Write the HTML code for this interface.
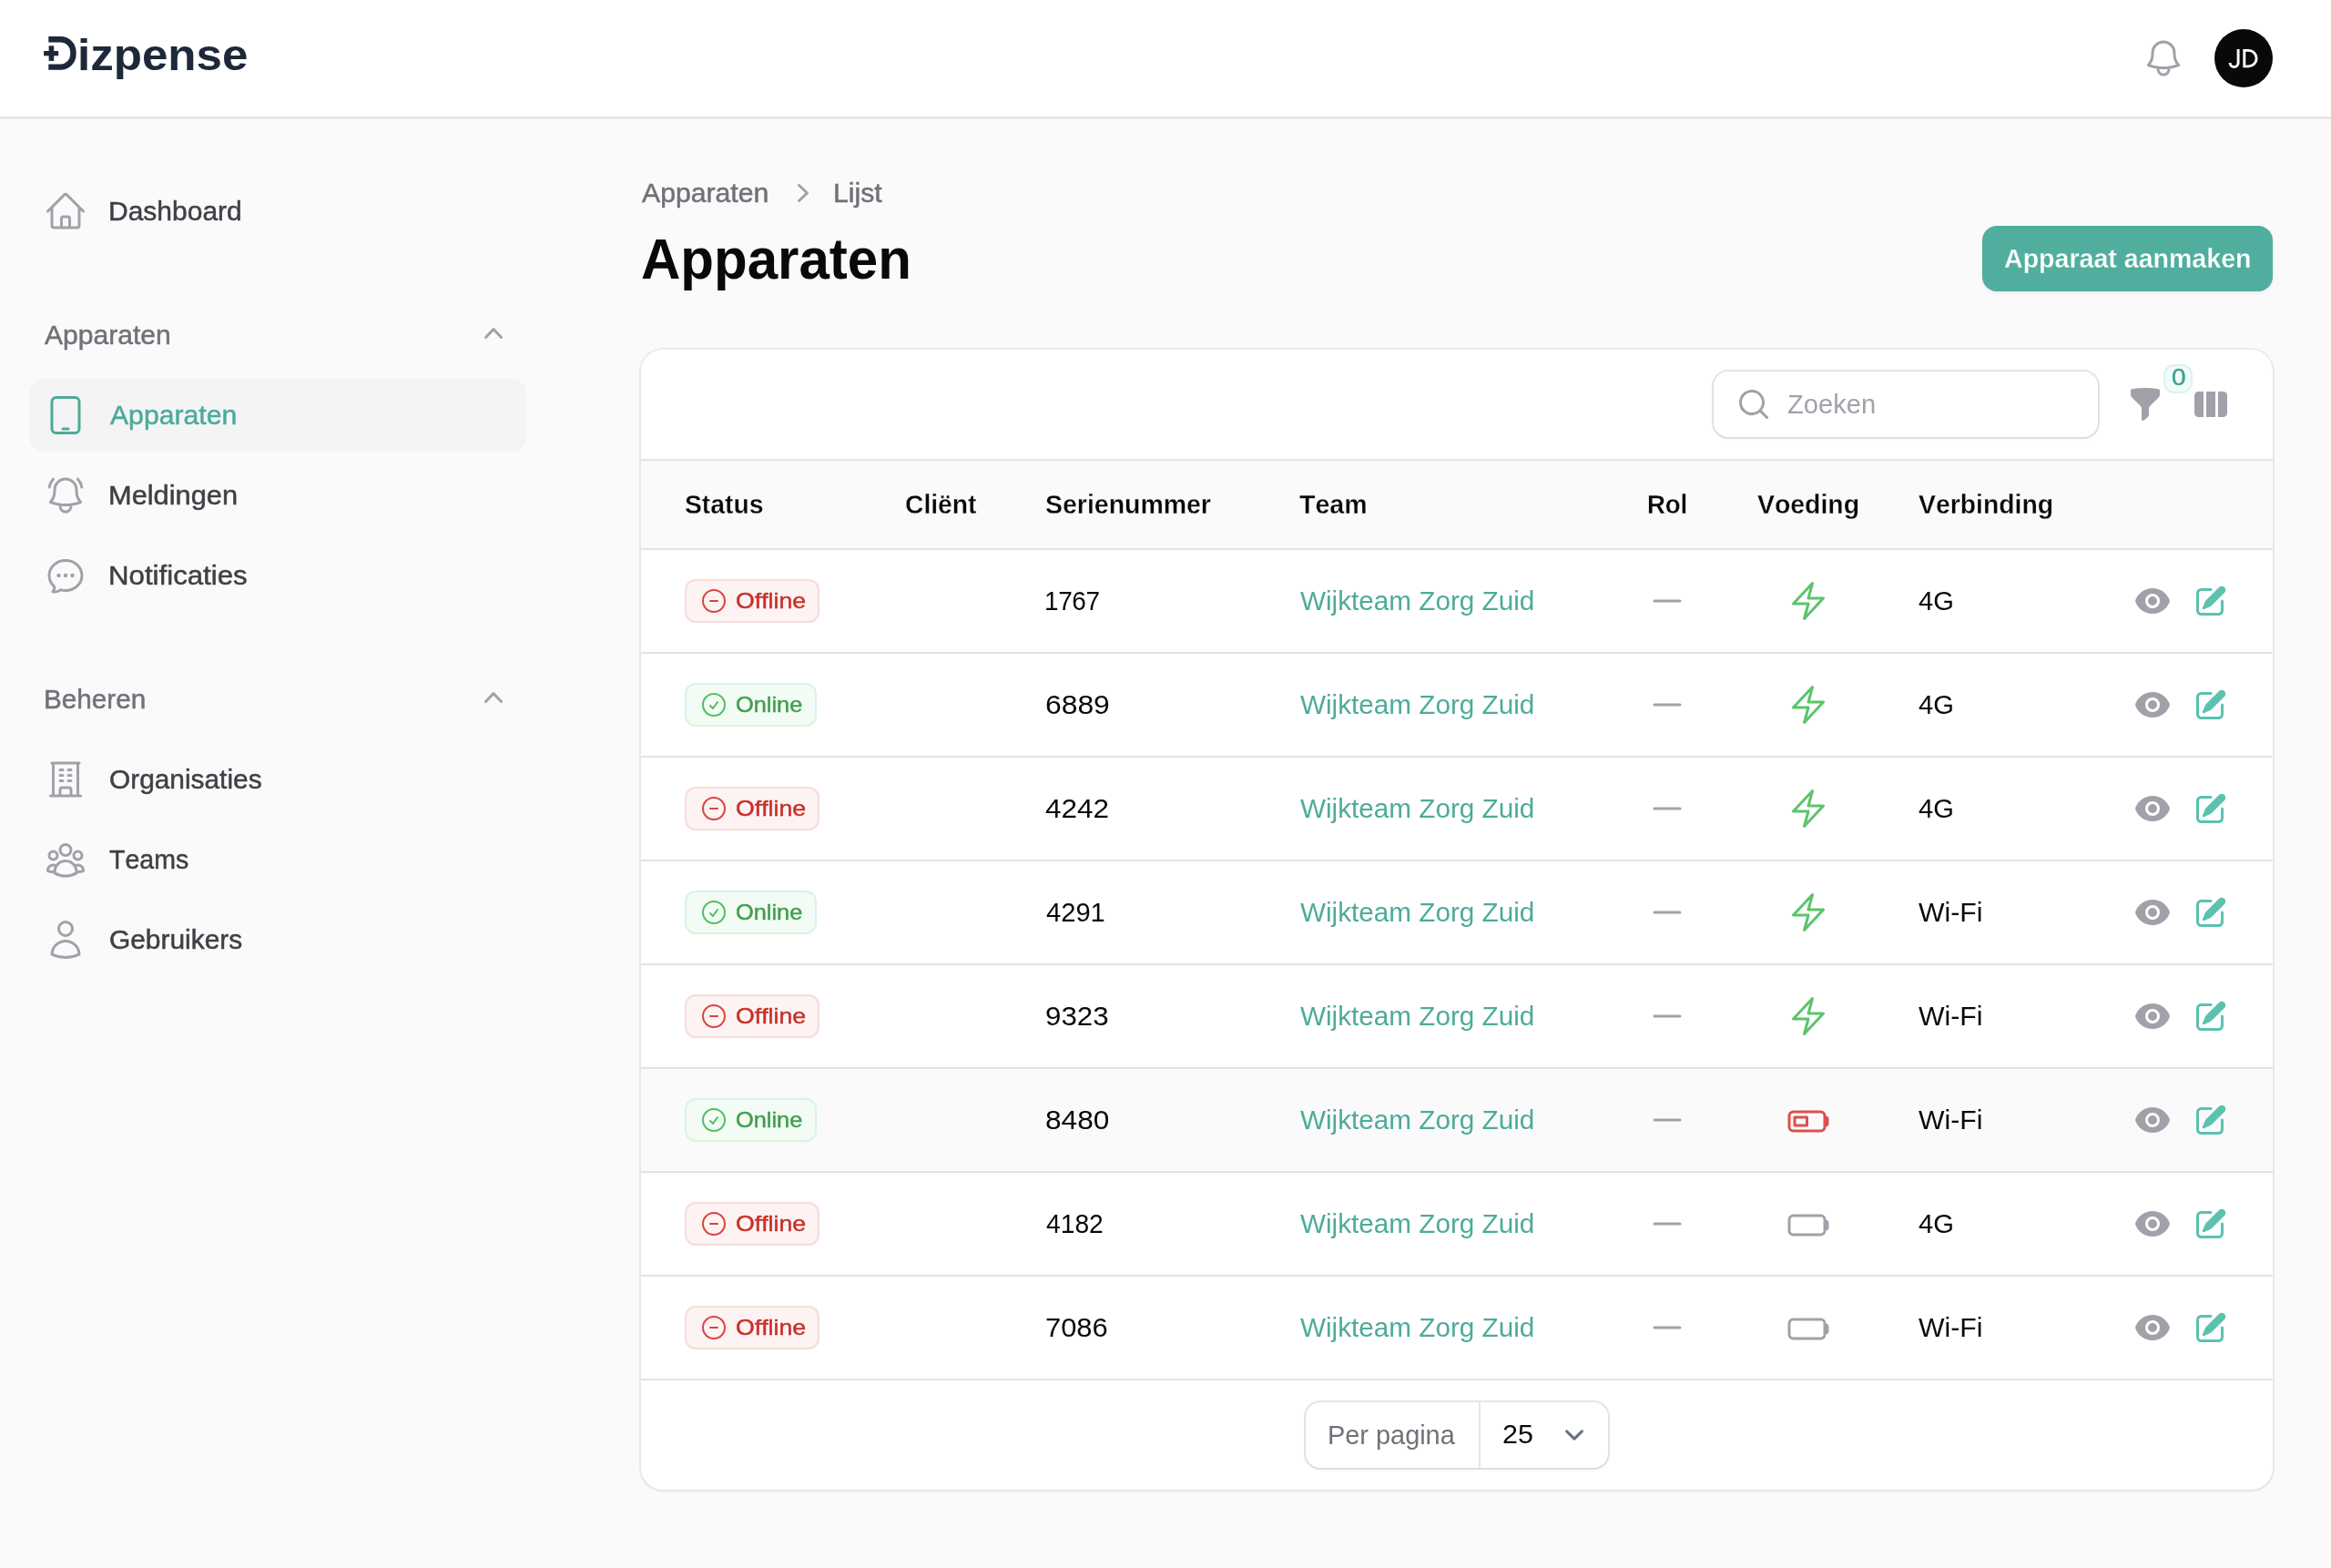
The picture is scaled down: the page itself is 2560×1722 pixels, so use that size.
<!DOCTYPE html>
<html lang="nl"><head><meta charset="utf-8"><title>Apparaten - Dizpense</title>
<style>
html,body{margin:0;padding:0}
body{width:2560px;height:1722px;background:#fafafa;position:relative;overflow:hidden;will-change:transform;font-family:"Liberation Sans",sans-serif;font-kerning:none;-webkit-font-smoothing:antialiased}
.b,.i,.t{position:absolute;display:block}
.t{white-space:nowrap;margin:0;transform-origin:0 0}
</style></head><body>
<div class="b" style="left:0px;top:0px;width:2560px;height:128px;background:#fff;box-shadow:0 2px 0 #e3e3e4,0 4px 0 #f6f6f6,0 5px 0 #f9f9f9;"></div>
<svg class="i" style="left:40px;top:28px" width="60" height="64" viewBox="40 28 60 64">
<path d="M53.3 43.3H66.6A13.8 13.8 0 0 1 80.4 57.1V59.8A13.8 13.8 0 0 1 66.6 73.6H53.3" fill="none" stroke="#1d283a" stroke-width="6.4"/>
<rect x="48.1" y="56" width="16.1" height="5.3" fill="#1d283a"/><rect x="53.6" y="50.3" width="5.6" height="16.6" fill="#1d283a"/>
</svg>
<span class="t" style="left:84.53px;top:36.01px;font-size:49px;line-height:49px;color:#1d283a;transform:scaleX(1.0422);font-weight:700;">izpense</span>
<svg class="i" style="left:2352px;top:40px" width="48" height="48" viewBox="0 0 24 24" fill="none" stroke="#a1a1aa" stroke-width="1.5" stroke-linecap="round" stroke-linejoin="round"><path d="M14.857 17.082a23.848 23.848 0 005.454-1.31A8.967 8.967 0 0118 9.75v-.7V9A6 6 0 006 9v.75a8.967 8.967 0 01-2.312 6.022c1.733.64 3.56 1.085 5.455 1.31m5.714 0a24.255 24.255 0 01-5.714 0m5.714 0a3 3 0 11-5.714 0"/></svg>
<div class="b" style="left:2432px;top:32px;width:64px;height:64px;border-radius:50%;background:#09090b;"></div>
<svg class="i" style="left:2432px;top:32px" width="64" height="64" viewBox="2432 32 64 64" fill="none" stroke="#fff" stroke-width="2.9"><path d="M2458.1 53.9V69.1A4.5 4.5 0 0 1 2449.1 69.1"/><path d="M2464.8 55.35H2469.4A8.75 8.75 0 0 1 2469.4 72.85H2464.8Z"/></svg>
<svg class="i" style="left:48px;top:208px" width="48" height="48" viewBox="0 0 24 24" fill="none" stroke="#a1a1aa" stroke-width="1.5" stroke-linecap="round" stroke-linejoin="round"><path d="M2.25 12l8.954-8.955c.44-.439 1.152-.439 1.591 0L21.75 12M4.5 9.75v10.125c0 .621.504 1.125 1.125 1.125H9.75v-4.875c0-.621.504-1.125 1.125-1.125h2.25c.621 0 1.125.504 1.125 1.125V21h4.125c.621 0 1.125-.504 1.125-1.125V9.75M8.25 21h8.25"/></svg>
<span class="t" style="left:119.44px;top:217.09px;font-size:29.3px;line-height:29.3px;color:#3f3f46;transform:scaleX(1.0238);-webkit-text-stroke:0.5px;">Dashboard</span>
<span class="t" style="left:48.84px;top:353.09px;font-size:29.3px;line-height:29.3px;color:#71717a;transform:scaleX(1.0259);-webkit-text-stroke:0.5px;">Apparaten</span>
<svg class="i" style="left:522px;top:346px" width="40" height="40" viewBox="0 0 20 20" fill="#a1a1aa"><path fill-rule="evenodd" clip-rule="evenodd" d="M14.77 12.79a.75.75 0 01-1.06-.02L10 8.832 6.29 12.77a.75.75 0 11-1.08-1.04l4.25-4.5a.75.75 0 011.08 0l4.25 4.5a.75.75 0 01-.02 1.06z"/></svg>
<div class="b" style="left:32px;top:416px;width:546px;height:80px;background:#f4f4f5;border-radius:16px;"></div>
<svg class="i" style="left:48px;top:432px" width="48" height="48" viewBox="0 0 24 24" fill="none" stroke="#4dab99" stroke-width="1.5" stroke-linecap="round" stroke-linejoin="round"><path d="M10.5 19.5h3m-6.75 2.25h10.5a2.25 2.25 0 002.25-2.25v-15a2.25 2.25 0 00-2.25-2.25H6.75A2.25 2.25 0 004.5 4.5v15a2.25 2.25 0 002.25 2.25z"/></svg>
<span class="t" style="left:120.74px;top:441.09px;font-size:29.3px;line-height:29.3px;color:#4dab99;transform:scaleX(1.0296);-webkit-text-stroke:0.5px;">Apparaten</span>
<svg class="i" style="left:48px;top:520px" width="48" height="48" viewBox="0 0 24 24" fill="none" stroke="#a1a1aa" stroke-width="1.5" stroke-linecap="round" stroke-linejoin="round"><path d="M14.857 17.082a23.848 23.848 0 005.454-1.31A8.967 8.967 0 0118 9.75v-.7V9A6 6 0 006 9v.75a8.967 8.967 0 01-2.312 6.022c1.733.64 3.56 1.085 5.455 1.31m5.714 0a24.255 24.255 0 01-5.714 0m5.714 0a3 3 0 11-5.714 0M3.124 7.5A8.969 8.969 0 015.292 3m13.416 0a8.969 8.969 0 012.168 4.5"/></svg>
<span class="t" style="left:119.48px;top:529.09px;font-size:29.3px;line-height:29.3px;color:#3f3f46;transform:scaleX(1.0505);-webkit-text-stroke:0.5px;">Meldingen</span>
<svg class="i" style="left:48px;top:608px" width="48" height="48" viewBox="0 0 24 24" fill="none" stroke="#a1a1aa" stroke-width="1.5" stroke-linecap="round" stroke-linejoin="round"><path d="M8.625 12a.375.375 0 11-.75 0 .375.375 0 01.75 0zm0 0H8.25m4.125 0a.375.375 0 11-.75 0 .375.375 0 01.75 0zm0 0H12m4.125 0a.375.375 0 11-.75 0 .375.375 0 01.75 0zm0 0h-.375M21 12c0 4.556-4.03 8.25-9 8.25a9.764 9.764 0 01-2.555-.337A5.972 5.972 0 015.41 20.97a5.969 5.969 0 01-.474-.065 4.48 4.48 0 00.978-2.025c.09-.457-.133-.901-.467-1.226C3.93 16.178 3 14.189 3 12c0-4.556 4.03-8.25 9-8.25s9 3.694 9 8.25z"/></svg>
<span class="t" style="left:119.44px;top:617.09px;font-size:29.3px;line-height:29.3px;color:#3f3f46;transform:scaleX(1.0656);-webkit-text-stroke:0.5px;">Notificaties</span>
<span class="t" style="left:47.66px;top:753.09px;font-size:29.3px;line-height:29.3px;color:#71717a;transform:scaleX(1.0134);-webkit-text-stroke:0.5px;">Beheren</span>
<svg class="i" style="left:522px;top:746px" width="40" height="40" viewBox="0 0 20 20" fill="#a1a1aa"><path fill-rule="evenodd" clip-rule="evenodd" d="M14.77 12.79a.75.75 0 01-1.06-.02L10 8.832 6.29 12.77a.75.75 0 11-1.08-1.04l4.25-4.5a.75.75 0 011.08 0l4.25 4.5a.75.75 0 01-.02 1.06z"/></svg>
<svg class="i" style="left:48px;top:832px" width="48" height="48" viewBox="0 0 24 24" fill="none" stroke="#a1a1aa" stroke-width="1.5" stroke-linecap="round" stroke-linejoin="round"><path d="M3.75 21h16.5M4.5 3h15M5.25 3v18m13.5-18v18M9 6.75h1.5m-1.5 3h1.5m-1.5 3h1.5m3-6H15m-1.5 3H15m-1.5 3H15M9 21v-3.375c0-.621.504-1.125 1.125-1.125h3.75c.621 0 1.125.504 1.125 1.125V21"/></svg>
<span class="t" style="left:119.99px;top:841.09px;font-size:29.3px;line-height:29.3px;color:#3f3f46;transform:scaleX(1.0189);-webkit-text-stroke:0.5px;">Organisaties</span>
<svg class="i" style="left:48px;top:920px" width="48" height="48" viewBox="0 0 24 24" fill="none" stroke="#a1a1aa" stroke-width="1.5" stroke-linecap="round" stroke-linejoin="round"><path d="M18 18.72a9.094 9.094 0 003.741-.479 3 3 0 00-4.682-2.72m.94 3.198l.001.031c0 .225-.012.447-.037.666A11.944 11.944 0 0112 21c-2.17 0-4.207-.576-5.963-1.584A6.062 6.062 0 016 18.719m12 0a5.971 5.971 0 00-.941-3.197m0 0A5.995 5.995 0 0012 12.75a5.995 5.995 0 00-5.058 2.772m0 0a3 3 0 00-4.681 2.72 8.986 8.986 0 003.74.477m.94-3.197a5.971 5.971 0 00-.94 3.197M15 6.75a3 3 0 11-6 0 3 3 0 016 0zm6 3a2.25 2.25 0 11-4.5 0 2.25 2.25 0 014.5 0zm-13.5 0a2.25 2.25 0 11-4.5 0 2.25 2.25 0 014.5 0z"/></svg>
<span class="t" style="left:120.36px;top:929.09px;font-size:29.3px;line-height:29.3px;color:#3f3f46;transform:scaleX(0.9735);-webkit-text-stroke:0.5px;">Teams</span>
<svg class="i" style="left:48px;top:1008px" width="48" height="48" viewBox="0 0 24 24" fill="none" stroke="#a1a1aa" stroke-width="1.5" stroke-linecap="round" stroke-linejoin="round"><path d="M15.75 6a3.75 3.75 0 11-7.5 0 3.75 3.75 0 017.5 0zM4.501 20.118a7.5 7.5 0 0114.998 0A17.933 17.933 0 0112 21.75c-2.676 0-5.216-.584-7.499-1.632z"/></svg>
<span class="t" style="left:119.90px;top:1017.09px;font-size:29.3px;line-height:29.3px;color:#3f3f46;transform:scaleX(1.0202);-webkit-text-stroke:0.5px;">Gebruikers</span>
<span class="t" style="left:704.54px;top:197.09px;font-size:29.3px;line-height:29.3px;color:#71717a;transform:scaleX(1.0304);-webkit-text-stroke:0.5px;">Apparaten</span>
<svg class="i" style="left:862px;top:192px" width="40" height="40" viewBox="0 0 20 20" fill="#a1a1aa"><path fill-rule="evenodd" clip-rule="evenodd" d="M7.21 14.77a.75.75 0 01.02-1.06L11.168 10 7.23 6.29a.75.75 0 111.04-1.08l4.5 4.25a.75.75 0 010 1.08l-4.5 4.25a.75.75 0 01-1.06-.02z"/></svg>
<span class="t" style="left:915.32px;top:197.09px;font-size:29.3px;line-height:29.3px;color:#71717a;transform:scaleX(1.0306);-webkit-text-stroke:0.5px;">Lijst</span>
<span class="t" style="left:703.81px;top:253.23px;font-size:63.5px;line-height:63.5px;color:#09090b;transform:scaleX(0.9452);font-weight:700;">Apparaten</span>
<div class="b" style="left:2177px;top:248px;width:319px;height:72px;background:#51ae9e;border-radius:16px;box-shadow:0 2px 4px rgba(0,0,0,.06);"></div>
<span class="t" style="left:2201.09px;top:269.42px;font-size:29.5px;line-height:29.5px;color:#fff;transform:scaleX(0.9683);font-weight:700;-webkit-text-stroke:0.3px #51ae9e;">Apparaat aanmaken</span>
<div class="b" style="left:704px;top:384px;width:1792px;height:1252px;background:#fff;border-radius:24px;box-shadow:0 0 0 2px rgba(9,9,11,.06),0 2px 4px rgba(0,0,0,.05);"></div>
<div class="b" style="left:704px;top:506px;width:1792px;height:96px;background:#fafafa;"></div>
<div class="b" style="left:704px;top:1174px;width:1792px;height:112px;background:#fafafa;"></div>
<div class="b" style="left:704px;top:504px;width:1792px;height:2px;background:#e4e4e7;"></div>
<div class="b" style="left:704px;top:602px;width:1792px;height:2px;background:#e4e4e7;"></div>
<div class="b" style="left:704px;top:716px;width:1792px;height:2px;background:#e4e4e7;"></div>
<div class="b" style="left:704px;top:830px;width:1792px;height:2px;background:#e4e4e7;"></div>
<div class="b" style="left:704px;top:944px;width:1792px;height:2px;background:#e4e4e7;"></div>
<div class="b" style="left:704px;top:1058px;width:1792px;height:2px;background:#e4e4e7;"></div>
<div class="b" style="left:704px;top:1172px;width:1792px;height:2px;background:#e4e4e7;"></div>
<div class="b" style="left:704px;top:1286px;width:1792px;height:2px;background:#e4e4e7;"></div>
<div class="b" style="left:704px;top:1400px;width:1792px;height:2px;background:#e4e4e7;"></div>
<div class="b" style="left:704px;top:1514px;width:1792px;height:2px;background:#e4e4e7;"></div>
<div class="b" style="left:1882px;top:408px;width:422px;height:72px;background:#fff;border-radius:16px;box-shadow:0 0 0 2px rgba(9,9,11,.1),0 2px 4px rgba(0,0,0,.05);"></div>
<svg class="i" style="left:1906px;top:424px" width="40" height="40" viewBox="0 0 20 20" fill="#a1a1aa"><path fill-rule="evenodd" clip-rule="evenodd" d="M9 3.5a5.5 5.5 0 100 11 5.5 5.5 0 000-11zM2 9a7 7 0 1112.452 4.391l3.328 3.329a.75.75 0 11-1.06 1.06l-3.329-3.328A7 7 0 012 9z"/></svg>
<span class="t" style="left:1962.88px;top:428.99px;font-size:29.3px;line-height:29.3px;color:#a1a1aa;transform:scaleX(0.9937);">Zoeken</span>
<svg class="i" style="left:2336px;top:424px" width="40" height="40" viewBox="0 0 20 20" fill="#a1a1aa"><path fill-rule="evenodd" clip-rule="evenodd" d="M2.628 1.601C5.028 1.206 7.49 1 10 1s4.973.206 7.372.601a.75.75 0 01.628.74v2.288a2.25 2.25 0 01-.659 1.59l-4.682 4.683a2.25 2.25 0 00-.659 1.59v3.037c0 .684-.31 1.33-.844 1.757l-1.937 1.55A.75.75 0 018 18.25v-5.757a2.25 2.25 0 00-.659-1.591L2.659 6.22A2.25 2.25 0 012 4.629V2.34a.75.75 0 01.628-.74z"/></svg>
<div class="b" style="left:2376px;top:400px;width:32px;height:32px;background:#f1fbf9;border-radius:12px;box-shadow:inset 0 0 0 2px #dcf3ee;"></div>
<span class="t" style="left:2384.71px;top:402.41px;font-size:25.5px;line-height:25.5px;color:#3fa08e;transform:scaleX(1.0993);-webkit-text-stroke:0.4px;">0</span>
<svg class="i" style="left:2408px;top:424px" width="40" height="40" viewBox="0 0 20 20" fill="#a1a1aa"><path fill-rule="evenodd" clip-rule="evenodd" d="M14 17h2.75A2.25 2.25 0 0019 14.75v-9.5A2.25 2.25 0 0016.75 3H14v14zM12.5 3h-5v14h5V3zM3.25 3H6v14H3.25A2.25 2.25 0 011 14.75v-9.5A2.25 2.25 0 013.25 3z"/></svg>
<span class="t" style="left:752.18px;top:539.35px;font-size:29.7px;line-height:29.7px;color:#09090b;transform:scaleX(0.9527);font-weight:700;-webkit-text-stroke:0.3px #fafafa;">Status</span>
<span class="t" style="left:994.34px;top:539.35px;font-size:29.7px;line-height:29.7px;color:#09090b;transform:scaleX(0.9515);font-weight:700;-webkit-text-stroke:0.3px #fafafa;">Cliënt</span>
<span class="t" style="left:1147.93px;top:539.35px;font-size:29.7px;line-height:29.7px;color:#09090b;transform:scaleX(0.9588);font-weight:700;-webkit-text-stroke:0.3px #fafafa;">Serienummer</span>
<span class="t" style="left:1427.18px;top:539.35px;font-size:29.7px;line-height:29.7px;color:#09090b;transform:scaleX(0.9614);font-weight:700;-webkit-text-stroke:0.3px #fafafa;">Team</span>
<span class="t" style="left:1808.90px;top:539.35px;font-size:29.7px;line-height:29.7px;color:#09090b;letter-spacing:-0.102px;transform:scaleX(0.9300);font-weight:700;-webkit-text-stroke:0.3px #fafafa;">Rol</span>
<span class="t" style="left:1930.31px;top:539.35px;font-size:29.7px;line-height:29.7px;color:#09090b;transform:scaleX(0.9569);font-weight:700;-webkit-text-stroke:0.3px #fafafa;">Voeding</span>
<span class="t" style="left:2107.31px;top:539.35px;font-size:29.7px;line-height:29.7px;color:#09090b;transform:scaleX(0.9548);font-weight:700;-webkit-text-stroke:0.3px #fafafa;">Verbinding</span>
<div class="b" style="left:752px;top:636px;width:148px;height:48px;background:#fdf3f2;border-radius:12px;box-shadow:inset 0 0 0 2px #f7dcdb;"></div>
<svg class="i" style="left:768px;top:644px" width="32" height="32" viewBox="0 0 24 24" fill="none" stroke="#d9443f" stroke-width="1.5" stroke-linecap="round" stroke-linejoin="round"><path d="M15 12H9m12 0a9 9 0 11-18 0 9 9 0 0118 0z"/></svg>
<span class="t" style="left:807.54px;top:648.46px;font-size:24.5px;line-height:24.5px;color:#c9302b;transform:scaleX(1.0881);-webkit-text-stroke:0.5px;">Offline</span>
<span class="t" style="left:1146.97px;top:644.60px;font-size:30px;line-height:30px;color:#09090b;letter-spacing:-0.372px;transform:scaleX(0.9300);">1767</span>
<span class="t" style="left:1427.67px;top:644.79px;font-size:29.3px;line-height:29.3px;color:#4dab99;transform:scaleX(1.0132);">Wijkteam Zorg Zuid</span>
<svg class="i" style="left:1807.3px;top:636px" width="48" height="48" viewBox="0 0 24 24" fill="none" stroke="#a1a1aa" stroke-width="1.5" stroke-linecap="round" stroke-linejoin="round"><path d="M5 12h14"/></svg>
<svg class="i" style="left:1962px;top:636px" width="48" height="48" viewBox="0 0 24 24" fill="none" stroke="#5cc46c" stroke-width="1.5" stroke-linecap="round" stroke-linejoin="round"><path d="M3.75 13.5l10.5-11.25L12 10.5h8.25L9.75 21.75 12 13.5H3.75z"/></svg>
<span class="t" style="left:2106.83px;top:645.19px;font-size:29.3px;line-height:29.3px;color:#09090b;transform:scaleX(0.9938);">4G</span>
<svg class="i" style="left:2344px;top:640px" width="40" height="40" viewBox="0 0 20 20" fill="#a1a1aa"><path fill-rule="evenodd" clip-rule="evenodd" d="M10 12.5a2.5 2.5 0 100-5 2.5 2.5 0 000 5z M.664 10.59a1.651 1.651 0 010-1.186A10.004 10.004 0 0110 3c4.257 0 7.893 2.66 9.336 6.41.147.381.146.804 0 1.186A10.004 10.004 0 0110 17c-4.257 0-7.893-2.66-9.336-6.41zM14 10a4 4 0 11-8 0 4 4 0 018 0z"/></svg>
<svg class="i" style="left:2408px;top:640px" width="40" height="40" viewBox="0 0 20 20" fill="#5bc2b0"><path fill-rule="evenodd" clip-rule="evenodd" d="M5.433 13.917l1.262-3.155A4 4 0 017.58 9.42l6.92-6.918a2.121 2.121 0 013 3l-6.92 6.918c-.383.383-.84.685-1.343.886l-3.154 1.262a.5.5 0 01-.65-.65z M3.5 5.75c0-.69.56-1.25 1.25-1.25H10A.75.75 0 0010 3H4.75A2.75 2.75 0 002 5.75v9.5A2.75 2.75 0 004.75 18h9.5A2.75 2.75 0 0017 15.25V10a.75.75 0 00-1.5 0v5.25c0 .69-.56 1.25-1.25 1.25h-9.5c-.69 0-1.25-.56-1.25-1.25v-9.5z"/></svg>
<div class="b" style="left:752px;top:750px;width:145px;height:48px;background:#f2fcf4;border-radius:12px;box-shadow:inset 0 0 0 2px #dcf2e1;"></div>
<svg class="i" style="left:768px;top:758px" width="32" height="32" viewBox="0 0 24 24" fill="none" stroke="#52bd62" stroke-width="1.5" stroke-linecap="round" stroke-linejoin="round"><path d="M9 12.75L11.25 15 15 9.75M21 12a9 9 0 11-18 0 9 9 0 0118 0z"/></svg>
<span class="t" style="left:807.60px;top:762.46px;font-size:24.5px;line-height:24.5px;color:#429e4e;transform:scaleX(1.0340);-webkit-text-stroke:0.5px;">Online</span>
<span class="t" style="left:1147.63px;top:758.60px;font-size:30px;line-height:30px;color:#09090b;transform:scaleX(1.0612);">6889</span>
<span class="t" style="left:1427.67px;top:758.79px;font-size:29.3px;line-height:29.3px;color:#4dab99;transform:scaleX(1.0132);">Wijkteam Zorg Zuid</span>
<svg class="i" style="left:1807.3px;top:750px" width="48" height="48" viewBox="0 0 24 24" fill="none" stroke="#a1a1aa" stroke-width="1.5" stroke-linecap="round" stroke-linejoin="round"><path d="M5 12h14"/></svg>
<svg class="i" style="left:1962px;top:750px" width="48" height="48" viewBox="0 0 24 24" fill="none" stroke="#5cc46c" stroke-width="1.5" stroke-linecap="round" stroke-linejoin="round"><path d="M3.75 13.5l10.5-11.25L12 10.5h8.25L9.75 21.75 12 13.5H3.75z"/></svg>
<span class="t" style="left:2106.83px;top:759.19px;font-size:29.3px;line-height:29.3px;color:#09090b;transform:scaleX(0.9938);">4G</span>
<svg class="i" style="left:2344px;top:754px" width="40" height="40" viewBox="0 0 20 20" fill="#a1a1aa"><path fill-rule="evenodd" clip-rule="evenodd" d="M10 12.5a2.5 2.5 0 100-5 2.5 2.5 0 000 5z M.664 10.59a1.651 1.651 0 010-1.186A10.004 10.004 0 0110 3c4.257 0 7.893 2.66 9.336 6.41.147.381.146.804 0 1.186A10.004 10.004 0 0110 17c-4.257 0-7.893-2.66-9.336-6.41zM14 10a4 4 0 11-8 0 4 4 0 018 0z"/></svg>
<svg class="i" style="left:2408px;top:754px" width="40" height="40" viewBox="0 0 20 20" fill="#5bc2b0"><path fill-rule="evenodd" clip-rule="evenodd" d="M5.433 13.917l1.262-3.155A4 4 0 017.58 9.42l6.92-6.918a2.121 2.121 0 013 3l-6.92 6.918c-.383.383-.84.685-1.343.886l-3.154 1.262a.5.5 0 01-.65-.65z M3.5 5.75c0-.69.56-1.25 1.25-1.25H10A.75.75 0 0010 3H4.75A2.75 2.75 0 002 5.75v9.5A2.75 2.75 0 004.75 18h9.5A2.75 2.75 0 0017 15.25V10a.75.75 0 00-1.5 0v5.25c0 .69-.56 1.25-1.25 1.25h-9.5c-.69 0-1.25-.56-1.25-1.25v-9.5z"/></svg>
<div class="b" style="left:752px;top:864px;width:148px;height:48px;background:#fdf3f2;border-radius:12px;box-shadow:inset 0 0 0 2px #f7dcdb;"></div>
<svg class="i" style="left:768px;top:872px" width="32" height="32" viewBox="0 0 24 24" fill="none" stroke="#d9443f" stroke-width="1.5" stroke-linecap="round" stroke-linejoin="round"><path d="M15 12H9m12 0a9 9 0 11-18 0 9 9 0 0118 0z"/></svg>
<span class="t" style="left:807.54px;top:876.46px;font-size:24.5px;line-height:24.5px;color:#c9302b;transform:scaleX(1.0881);-webkit-text-stroke:0.5px;">Offline</span>
<span class="t" style="left:1148.48px;top:872.60px;font-size:30px;line-height:30px;color:#09090b;transform:scaleX(1.0489);">4242</span>
<span class="t" style="left:1427.67px;top:872.79px;font-size:29.3px;line-height:29.3px;color:#4dab99;transform:scaleX(1.0132);">Wijkteam Zorg Zuid</span>
<svg class="i" style="left:1807.3px;top:864px" width="48" height="48" viewBox="0 0 24 24" fill="none" stroke="#a1a1aa" stroke-width="1.5" stroke-linecap="round" stroke-linejoin="round"><path d="M5 12h14"/></svg>
<svg class="i" style="left:1962px;top:864px" width="48" height="48" viewBox="0 0 24 24" fill="none" stroke="#5cc46c" stroke-width="1.5" stroke-linecap="round" stroke-linejoin="round"><path d="M3.75 13.5l10.5-11.25L12 10.5h8.25L9.75 21.75 12 13.5H3.75z"/></svg>
<span class="t" style="left:2106.83px;top:873.19px;font-size:29.3px;line-height:29.3px;color:#09090b;transform:scaleX(0.9938);">4G</span>
<svg class="i" style="left:2344px;top:868px" width="40" height="40" viewBox="0 0 20 20" fill="#a1a1aa"><path fill-rule="evenodd" clip-rule="evenodd" d="M10 12.5a2.5 2.5 0 100-5 2.5 2.5 0 000 5z M.664 10.59a1.651 1.651 0 010-1.186A10.004 10.004 0 0110 3c4.257 0 7.893 2.66 9.336 6.41.147.381.146.804 0 1.186A10.004 10.004 0 0110 17c-4.257 0-7.893-2.66-9.336-6.41zM14 10a4 4 0 11-8 0 4 4 0 018 0z"/></svg>
<svg class="i" style="left:2408px;top:868px" width="40" height="40" viewBox="0 0 20 20" fill="#5bc2b0"><path fill-rule="evenodd" clip-rule="evenodd" d="M5.433 13.917l1.262-3.155A4 4 0 017.58 9.42l6.92-6.918a2.121 2.121 0 013 3l-6.92 6.918c-.383.383-.84.685-1.343.886l-3.154 1.262a.5.5 0 01-.65-.65z M3.5 5.75c0-.69.56-1.25 1.25-1.25H10A.75.75 0 0010 3H4.75A2.75 2.75 0 002 5.75v9.5A2.75 2.75 0 004.75 18h9.5A2.75 2.75 0 0017 15.25V10a.75.75 0 00-1.5 0v5.25c0 .69-.56 1.25-1.25 1.25h-9.5c-.69 0-1.25-.56-1.25-1.25v-9.5z"/></svg>
<div class="b" style="left:752px;top:978px;width:145px;height:48px;background:#f2fcf4;border-radius:12px;box-shadow:inset 0 0 0 2px #dcf2e1;"></div>
<svg class="i" style="left:768px;top:986px" width="32" height="32" viewBox="0 0 24 24" fill="none" stroke="#52bd62" stroke-width="1.5" stroke-linecap="round" stroke-linejoin="round"><path d="M9 12.75L11.25 15 15 9.75M21 12a9 9 0 11-18 0 9 9 0 0118 0z"/></svg>
<span class="t" style="left:807.60px;top:990.46px;font-size:24.5px;line-height:24.5px;color:#429e4e;transform:scaleX(1.0340);-webkit-text-stroke:0.5px;">Online</span>
<span class="t" style="left:1148.53px;top:986.60px;font-size:30px;line-height:30px;color:#09090b;transform:scaleX(0.9708);">4291</span>
<span class="t" style="left:1427.67px;top:986.79px;font-size:29.3px;line-height:29.3px;color:#4dab99;transform:scaleX(1.0132);">Wijkteam Zorg Zuid</span>
<svg class="i" style="left:1807.3px;top:978px" width="48" height="48" viewBox="0 0 24 24" fill="none" stroke="#a1a1aa" stroke-width="1.5" stroke-linecap="round" stroke-linejoin="round"><path d="M5 12h14"/></svg>
<svg class="i" style="left:1962px;top:978px" width="48" height="48" viewBox="0 0 24 24" fill="none" stroke="#5cc46c" stroke-width="1.5" stroke-linecap="round" stroke-linejoin="round"><path d="M3.75 13.5l10.5-11.25L12 10.5h8.25L9.75 21.75 12 13.5H3.75z"/></svg>
<span class="t" style="left:2107.27px;top:987.19px;font-size:29.3px;line-height:29.3px;color:#09090b;transform:scaleX(1.0313);">Wi-Fi</span>
<svg class="i" style="left:2344px;top:982px" width="40" height="40" viewBox="0 0 20 20" fill="#a1a1aa"><path fill-rule="evenodd" clip-rule="evenodd" d="M10 12.5a2.5 2.5 0 100-5 2.5 2.5 0 000 5z M.664 10.59a1.651 1.651 0 010-1.186A10.004 10.004 0 0110 3c4.257 0 7.893 2.66 9.336 6.41.147.381.146.804 0 1.186A10.004 10.004 0 0110 17c-4.257 0-7.893-2.66-9.336-6.41zM14 10a4 4 0 11-8 0 4 4 0 018 0z"/></svg>
<svg class="i" style="left:2408px;top:982px" width="40" height="40" viewBox="0 0 20 20" fill="#5bc2b0"><path fill-rule="evenodd" clip-rule="evenodd" d="M5.433 13.917l1.262-3.155A4 4 0 017.58 9.42l6.92-6.918a2.121 2.121 0 013 3l-6.92 6.918c-.383.383-.84.685-1.343.886l-3.154 1.262a.5.5 0 01-.65-.65z M3.5 5.75c0-.69.56-1.25 1.25-1.25H10A.75.75 0 0010 3H4.75A2.75 2.75 0 002 5.75v9.5A2.75 2.75 0 004.75 18h9.5A2.75 2.75 0 0017 15.25V10a.75.75 0 00-1.5 0v5.25c0 .69-.56 1.25-1.25 1.25h-9.5c-.69 0-1.25-.56-1.25-1.25v-9.5z"/></svg>
<div class="b" style="left:752px;top:1092px;width:148px;height:48px;background:#fdf3f2;border-radius:12px;box-shadow:inset 0 0 0 2px #f7dcdb;"></div>
<svg class="i" style="left:768px;top:1100px" width="32" height="32" viewBox="0 0 24 24" fill="none" stroke="#d9443f" stroke-width="1.5" stroke-linecap="round" stroke-linejoin="round"><path d="M15 12H9m12 0a9 9 0 11-18 0 9 9 0 0118 0z"/></svg>
<span class="t" style="left:807.54px;top:1104.46px;font-size:24.5px;line-height:24.5px;color:#c9302b;transform:scaleX(1.0881);-webkit-text-stroke:0.5px;">Offline</span>
<span class="t" style="left:1148.13px;top:1100.60px;font-size:30px;line-height:30px;color:#09090b;transform:scaleX(1.0420);">9323</span>
<span class="t" style="left:1427.67px;top:1100.79px;font-size:29.3px;line-height:29.3px;color:#4dab99;transform:scaleX(1.0132);">Wijkteam Zorg Zuid</span>
<svg class="i" style="left:1807.3px;top:1092px" width="48" height="48" viewBox="0 0 24 24" fill="none" stroke="#a1a1aa" stroke-width="1.5" stroke-linecap="round" stroke-linejoin="round"><path d="M5 12h14"/></svg>
<svg class="i" style="left:1962px;top:1092px" width="48" height="48" viewBox="0 0 24 24" fill="none" stroke="#5cc46c" stroke-width="1.5" stroke-linecap="round" stroke-linejoin="round"><path d="M3.75 13.5l10.5-11.25L12 10.5h8.25L9.75 21.75 12 13.5H3.75z"/></svg>
<span class="t" style="left:2107.27px;top:1101.19px;font-size:29.3px;line-height:29.3px;color:#09090b;transform:scaleX(1.0313);">Wi-Fi</span>
<svg class="i" style="left:2344px;top:1096px" width="40" height="40" viewBox="0 0 20 20" fill="#a1a1aa"><path fill-rule="evenodd" clip-rule="evenodd" d="M10 12.5a2.5 2.5 0 100-5 2.5 2.5 0 000 5z M.664 10.59a1.651 1.651 0 010-1.186A10.004 10.004 0 0110 3c4.257 0 7.893 2.66 9.336 6.41.147.381.146.804 0 1.186A10.004 10.004 0 0110 17c-4.257 0-7.893-2.66-9.336-6.41zM14 10a4 4 0 11-8 0 4 4 0 018 0z"/></svg>
<svg class="i" style="left:2408px;top:1096px" width="40" height="40" viewBox="0 0 20 20" fill="#5bc2b0"><path fill-rule="evenodd" clip-rule="evenodd" d="M5.433 13.917l1.262-3.155A4 4 0 017.58 9.42l6.92-6.918a2.121 2.121 0 013 3l-6.92 6.918c-.383.383-.84.685-1.343.886l-3.154 1.262a.5.5 0 01-.65-.65z M3.5 5.75c0-.69.56-1.25 1.25-1.25H10A.75.75 0 0010 3H4.75A2.75 2.75 0 002 5.75v9.5A2.75 2.75 0 004.75 18h9.5A2.75 2.75 0 0017 15.25V10a.75.75 0 00-1.5 0v5.25c0 .69-.56 1.25-1.25 1.25h-9.5c-.69 0-1.25-.56-1.25-1.25v-9.5z"/></svg>
<div class="b" style="left:752px;top:1206px;width:145px;height:48px;background:#f2fcf4;border-radius:12px;box-shadow:inset 0 0 0 2px #dcf2e1;"></div>
<svg class="i" style="left:768px;top:1214px" width="32" height="32" viewBox="0 0 24 24" fill="none" stroke="#52bd62" stroke-width="1.5" stroke-linecap="round" stroke-linejoin="round"><path d="M9 12.75L11.25 15 15 9.75M21 12a9 9 0 11-18 0 9 9 0 0118 0z"/></svg>
<span class="t" style="left:807.60px;top:1218.46px;font-size:24.5px;line-height:24.5px;color:#429e4e;transform:scaleX(1.0340);-webkit-text-stroke:0.5px;">Online</span>
<span class="t" style="left:1148.23px;top:1214.60px;font-size:30px;line-height:30px;color:#09090b;transform:scaleX(1.0535);">8480</span>
<span class="t" style="left:1427.67px;top:1214.79px;font-size:29.3px;line-height:29.3px;color:#4dab99;transform:scaleX(1.0132);">Wijkteam Zorg Zuid</span>
<svg class="i" style="left:1807.3px;top:1206px" width="48" height="48" viewBox="0 0 24 24" fill="none" stroke="#a1a1aa" stroke-width="1.5" stroke-linecap="round" stroke-linejoin="round"><path d="M5 12h14"/></svg>
<svg class="i" style="left:1962px;top:1206px" width="48" height="48" viewBox="0 0 24 24" fill="none" stroke="#dc504e" stroke-width="1.5" stroke-linecap="round" stroke-linejoin="round"><path d="M21 10.5h.375c.621 0 1.125.504 1.125 1.125v2.25c0 .621-.504 1.125-1.125 1.125H21M4.5 10.5h6.75V15H4.5v-4.5zM3.75 18h15A2.25 2.25 0 0021 15.75v-6a2.25 2.25 0 00-2.25-2.25h-15A2.25 2.25 0 001.5 9.75v6A2.25 2.25 0 003.75 18z"/></svg>
<span class="t" style="left:2107.27px;top:1215.19px;font-size:29.3px;line-height:29.3px;color:#09090b;transform:scaleX(1.0313);">Wi-Fi</span>
<svg class="i" style="left:2344px;top:1210px" width="40" height="40" viewBox="0 0 20 20" fill="#a1a1aa"><path fill-rule="evenodd" clip-rule="evenodd" d="M10 12.5a2.5 2.5 0 100-5 2.5 2.5 0 000 5z M.664 10.59a1.651 1.651 0 010-1.186A10.004 10.004 0 0110 3c4.257 0 7.893 2.66 9.336 6.41.147.381.146.804 0 1.186A10.004 10.004 0 0110 17c-4.257 0-7.893-2.66-9.336-6.41zM14 10a4 4 0 11-8 0 4 4 0 018 0z"/></svg>
<svg class="i" style="left:2408px;top:1210px" width="40" height="40" viewBox="0 0 20 20" fill="#5bc2b0"><path fill-rule="evenodd" clip-rule="evenodd" d="M5.433 13.917l1.262-3.155A4 4 0 017.58 9.42l6.92-6.918a2.121 2.121 0 013 3l-6.92 6.918c-.383.383-.84.685-1.343.886l-3.154 1.262a.5.5 0 01-.65-.65z M3.5 5.75c0-.69.56-1.25 1.25-1.25H10A.75.75 0 0010 3H4.75A2.75 2.75 0 002 5.75v9.5A2.75 2.75 0 004.75 18h9.5A2.75 2.75 0 0017 15.25V10a.75.75 0 00-1.5 0v5.25c0 .69-.56 1.25-1.25 1.25h-9.5c-.69 0-1.25-.56-1.25-1.25v-9.5z"/></svg>
<div class="b" style="left:752px;top:1320px;width:148px;height:48px;background:#fdf3f2;border-radius:12px;box-shadow:inset 0 0 0 2px #f7dcdb;"></div>
<svg class="i" style="left:768px;top:1328px" width="32" height="32" viewBox="0 0 24 24" fill="none" stroke="#d9443f" stroke-width="1.5" stroke-linecap="round" stroke-linejoin="round"><path d="M15 12H9m12 0a9 9 0 11-18 0 9 9 0 0118 0z"/></svg>
<span class="t" style="left:807.54px;top:1332.46px;font-size:24.5px;line-height:24.5px;color:#c9302b;transform:scaleX(1.0881);-webkit-text-stroke:0.5px;">Offline</span>
<span class="t" style="left:1148.55px;top:1328.60px;font-size:30px;line-height:30px;color:#09090b;transform:scaleX(0.9405);">4182</span>
<span class="t" style="left:1427.67px;top:1328.79px;font-size:29.3px;line-height:29.3px;color:#4dab99;transform:scaleX(1.0132);">Wijkteam Zorg Zuid</span>
<svg class="i" style="left:1807.3px;top:1320px" width="48" height="48" viewBox="0 0 24 24" fill="none" stroke="#a1a1aa" stroke-width="1.5" stroke-linecap="round" stroke-linejoin="round"><path d="M5 12h14"/></svg>
<svg class="i" style="left:1962px;top:1320px" width="48" height="48" viewBox="0 0 24 24" fill="none" stroke="#a1a1aa" stroke-width="1.5" stroke-linecap="round" stroke-linejoin="round"><path d="M21 10.5h.375c.621 0 1.125.504 1.125 1.125v2.25c0 .621-.504 1.125-1.125 1.125H21M3.75 18h15A2.25 2.25 0 0021 15.75v-6a2.25 2.25 0 00-2.25-2.25h-15A2.25 2.25 0 001.5 9.75v6A2.25 2.25 0 003.75 18z"/></svg>
<span class="t" style="left:2106.83px;top:1329.19px;font-size:29.3px;line-height:29.3px;color:#09090b;transform:scaleX(0.9938);">4G</span>
<svg class="i" style="left:2344px;top:1324px" width="40" height="40" viewBox="0 0 20 20" fill="#a1a1aa"><path fill-rule="evenodd" clip-rule="evenodd" d="M10 12.5a2.5 2.5 0 100-5 2.5 2.5 0 000 5z M.664 10.59a1.651 1.651 0 010-1.186A10.004 10.004 0 0110 3c4.257 0 7.893 2.66 9.336 6.41.147.381.146.804 0 1.186A10.004 10.004 0 0110 17c-4.257 0-7.893-2.66-9.336-6.41zM14 10a4 4 0 11-8 0 4 4 0 018 0z"/></svg>
<svg class="i" style="left:2408px;top:1324px" width="40" height="40" viewBox="0 0 20 20" fill="#5bc2b0"><path fill-rule="evenodd" clip-rule="evenodd" d="M5.433 13.917l1.262-3.155A4 4 0 017.58 9.42l6.92-6.918a2.121 2.121 0 013 3l-6.92 6.918c-.383.383-.84.685-1.343.886l-3.154 1.262a.5.5 0 01-.65-.65z M3.5 5.75c0-.69.56-1.25 1.25-1.25H10A.75.75 0 0010 3H4.75A2.75 2.75 0 002 5.75v9.5A2.75 2.75 0 004.75 18h9.5A2.75 2.75 0 0017 15.25V10a.75.75 0 00-1.5 0v5.25c0 .69-.56 1.25-1.25 1.25h-9.5c-.69 0-1.25-.56-1.25-1.25v-9.5z"/></svg>
<div class="b" style="left:752px;top:1434px;width:148px;height:48px;background:#fdf3f2;border-radius:12px;box-shadow:inset 0 0 0 2px #f7dcdb;"></div>
<svg class="i" style="left:768px;top:1442px" width="32" height="32" viewBox="0 0 24 24" fill="none" stroke="#d9443f" stroke-width="1.5" stroke-linecap="round" stroke-linejoin="round"><path d="M15 12H9m12 0a9 9 0 11-18 0 9 9 0 0118 0z"/></svg>
<span class="t" style="left:807.54px;top:1446.46px;font-size:24.5px;line-height:24.5px;color:#c9302b;transform:scaleX(1.0881);-webkit-text-stroke:0.5px;">Offline</span>
<span class="t" style="left:1147.92px;top:1442.60px;font-size:30px;line-height:30px;color:#09090b;transform:scaleX(1.0285);">7086</span>
<span class="t" style="left:1427.67px;top:1442.79px;font-size:29.3px;line-height:29.3px;color:#4dab99;transform:scaleX(1.0132);">Wijkteam Zorg Zuid</span>
<svg class="i" style="left:1807.3px;top:1434px" width="48" height="48" viewBox="0 0 24 24" fill="none" stroke="#a1a1aa" stroke-width="1.5" stroke-linecap="round" stroke-linejoin="round"><path d="M5 12h14"/></svg>
<svg class="i" style="left:1962px;top:1434px" width="48" height="48" viewBox="0 0 24 24" fill="none" stroke="#a1a1aa" stroke-width="1.5" stroke-linecap="round" stroke-linejoin="round"><path d="M21 10.5h.375c.621 0 1.125.504 1.125 1.125v2.25c0 .621-.504 1.125-1.125 1.125H21M3.75 18h15A2.25 2.25 0 0021 15.75v-6a2.25 2.25 0 00-2.25-2.25h-15A2.25 2.25 0 001.5 9.75v6A2.25 2.25 0 003.75 18z"/></svg>
<span class="t" style="left:2107.27px;top:1443.19px;font-size:29.3px;line-height:29.3px;color:#09090b;transform:scaleX(1.0313);">Wi-Fi</span>
<svg class="i" style="left:2344px;top:1438px" width="40" height="40" viewBox="0 0 20 20" fill="#a1a1aa"><path fill-rule="evenodd" clip-rule="evenodd" d="M10 12.5a2.5 2.5 0 100-5 2.5 2.5 0 000 5z M.664 10.59a1.651 1.651 0 010-1.186A10.004 10.004 0 0110 3c4.257 0 7.893 2.66 9.336 6.41.147.381.146.804 0 1.186A10.004 10.004 0 0110 17c-4.257 0-7.893-2.66-9.336-6.41zM14 10a4 4 0 11-8 0 4 4 0 018 0z"/></svg>
<svg class="i" style="left:2408px;top:1438px" width="40" height="40" viewBox="0 0 20 20" fill="#5bc2b0"><path fill-rule="evenodd" clip-rule="evenodd" d="M5.433 13.917l1.262-3.155A4 4 0 017.58 9.42l6.92-6.918a2.121 2.121 0 013 3l-6.92 6.918c-.383.383-.84.685-1.343.886l-3.154 1.262a.5.5 0 01-.65-.65z M3.5 5.75c0-.69.56-1.25 1.25-1.25H10A.75.75 0 0010 3H4.75A2.75 2.75 0 002 5.75v9.5A2.75 2.75 0 004.75 18h9.5A2.75 2.75 0 0017 15.25V10a.75.75 0 00-1.5 0v5.25c0 .69-.56 1.25-1.25 1.25h-9.5c-.69 0-1.25-.56-1.25-1.25v-9.5z"/></svg>
<div class="b" style="left:1434px;top:1540px;width:332px;height:72px;background:#fff;border-radius:16px;box-shadow:0 0 0 2px rgba(9,9,11,.1),0 2px 4px rgba(0,0,0,.05);"></div>
<div class="b" style="left:1624px;top:1540px;width:2px;height:72px;background:#e6e6e8;"></div>
<span class="t" style="left:1457.83px;top:1560.99px;font-size:29.3px;line-height:29.3px;color:#71717a;transform:scaleX(0.9862);">Per pagina</span>
<span class="t" style="left:1649.72px;top:1560.35px;font-size:30px;line-height:30px;color:#09090b;transform:scaleX(1.0131);">25</span>
<svg class="i" style="left:1708px;top:1555px" width="42" height="42" viewBox="0 0 20 20" fill="none" stroke="#6b7280" stroke-width="1.5" stroke-linecap="round" stroke-linejoin="round"><path d="M6 8l4 4 4-4"/></svg>
</body></html>
